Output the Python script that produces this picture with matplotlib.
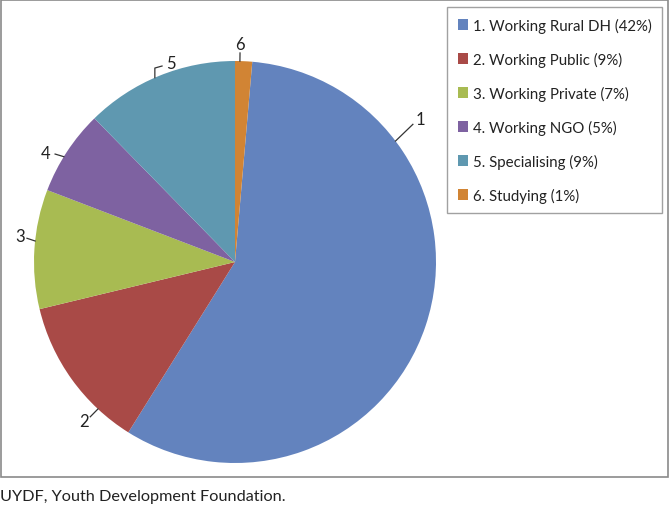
import numpy as np
import matplotlib.pyplot as plt
from matplotlib.patches import Rectangle

plt.rcParams['font.family'] = ['Lato', 'DejaVu Sans']

# Daten
labels = ["1. Working Rural DH (42%)", "2. Working Public (9%)", "3. Working Private (7%)",
          "4. Working NGO (5%)", "5. Specialising (9%)", "6. Studying (1%)"]
short_labels = ["1", "2", "3", "4", "5", "6"]
values = [42, 9, 7, 5, 9, 1]
colors = ["#6383be", "#a94a47", "#a8bb52", "#7e62a1", "#5f98b0", "#d18434"]
caption = "UYDF, Youth Development Foundation."

W, H = 670, 510
cx, cy, rad = 235, 263, 201  # Pixelposition der Kreismitte und Radius

fig = plt.figure(figsize=(W / 100, H / 100), dpi=100)
ax = fig.add_axes([0, 0, 1, 1])

start = 90 - 360 * values[-1] / sum(values)
wedges, _ = ax.pie(values, colors=colors, startangle=start, counterclock=False,
                   radius=1, center=(0, 0), frame=True,
                   wedgeprops=dict(linewidth=0))
ax.set_xlim(-cx / rad, (W - cx) / rad)
ax.set_ylim(-(H - cy) / rad, cy / rad)
ax.set_aspect('auto')
ax.axis('off')

# Beschriftungen mit Führungslinien (Winkel am Rand, Textposition)
edge_ang = [37, 227, 174, 148.4, 113.5, 88.6]
text_pos = [(0.92, 0.71), (-0.75, -0.79), (-1.07, 0.13), (-0.94, 0.54), (-0.32, 0.99), (0.025, 1.085)]
line_end = [(0.885, 0.685), (-0.72, -0.77), (-1.035, 0.118), (-0.895, 0.537), (-0.403, 0.965), (0.025, 1.04)]
for i, s in enumerate(short_labels):
    a = np.deg2rad(edge_ang[i])
    ex, ey = np.cos(a), np.sin(a)
    lx, ly = line_end[i]
    if i == 4:
        ax.plot([ex, ex, lx + 0.04], [ey, ly, ly + 0.01], color='#333333', lw=0.9)
    else:
        ax.plot([ex, lx], [ey, ly], color='#333333', lw=0.9)
    ax.text(text_pos[i][0], text_pos[i][1], s, ha='center', va='center', fontsize=12, color='#222222')

# Legende
leg = fig.legend(wedges, labels, loc='upper left',
                 bbox_to_anchor=(447 / W, 1 - 8 / H), frameon=True, fancybox=False,
                 edgecolor='#8a8a8a', fontsize=10.8, handlelength=0.7, handleheight=0.7,
                 handletextpad=0.3, labelspacing=1.26, borderpad=0.72, borderaxespad=0)
leg.get_frame().set_linewidth(1.0)
for t in leg.get_texts():
    t.set_color('#222222')

# Rahmen um das Diagramm
fig.patches.append(Rectangle((1 / W, 1 - 478 / H), 667 / W, 477 / H, transform=fig.transFigure,
                             fill=False, edgecolor='#8a8a8a', linewidth=1.2))

fig.text(0, 1 - 497 / H, caption, ha='left', va='center', fontsize=11.7, color='#222222')

fig.savefig('out.png', dpi=100)
